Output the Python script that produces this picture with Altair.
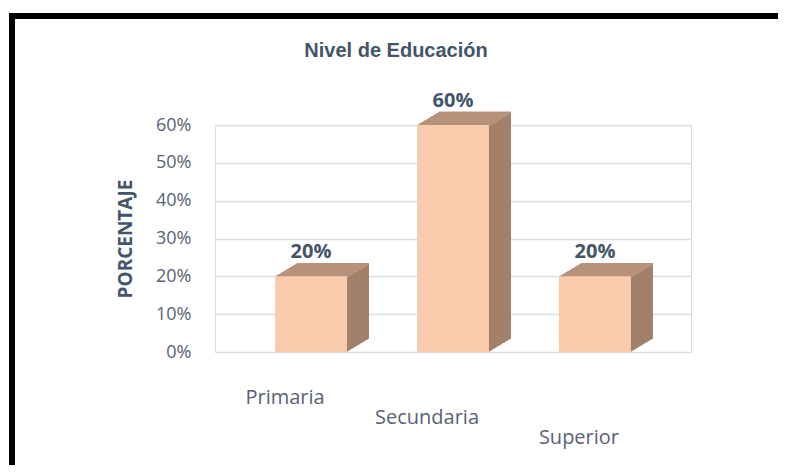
import altair as alt
import pandas as pd

# ---- data ----
categories = ["Primaria", "Secundaria", "Superior"]
values = [0.20, 0.60, 0.20]
value_labels = ["20%", "60%", "20%"]
y_ticks = [0.0, 0.1, 0.2, 0.3, 0.4, 0.5, 0.6]
chart_title = "Nivel de Educación"
y_title = "PORCENTAJE"

# ---- style ----
FRONT = "#F8CBAD"
TOP = "#BE9880"
SIDE = "#A2806A"
TEXT_DARK = "#44546A"
TEXT_AXIS = "#596275"
GRID = "#D9DFE7"

W, H = 476, 227
PL, PT = 207, 117
PR = 770 - PL - W
PB = 457 - PT - H
DEPTH = 22
SLOPE = 0.6

df = pd.DataFrame({"cat": categories, "v": values, "lab": value_labels})

x_enc = alt.X(
    "cat:N",
    sort=categories,
    title=None,
    scale=alt.Scale(paddingInner=0.493, paddingOuter=0.423),
    axis=alt.Axis(
        labelAngle=0,
        ticks=False,
        domain=False,
        grid=False,
        labelFont="Open Sans",
        labelFontSize=20,
        labelColor=TEXT_AXIS,
        labelBaseline="top",
        labelPadding={
            "condition": [
                {"test": "datum.value === 'Secundaria'", "value": 55},
                {"test": "datum.value === 'Superior'", "value": 75},
            ],
            "value": 35,
        },
        labelOffset={
            "condition": {"test": "datum.value === 'Superior'", "value": -16},
            "value": -26,
        },
    ),
)
y_enc = alt.Y(
    "v:Q",
    title=y_title,
    scale=alt.Scale(domain=[0, 0.6]),
    axis=alt.Axis(
        values=y_ticks,
        format=".0%",
        ticks=False,
        domain=False,
        grid=True,
        gridColor=GRID,
        gridWidth=1.3,
        labelFont="Open Sans",
        labelFontSize=18,
        labelColor=TEXT_AXIS,
        labelPadding=24,
        titleFont="Open Sans",
        titleFontSize=19,
        titleFontWeight="bold",
        titleColor=TEXT_DARK,
        titlePadding=20,
    ),
)

base = alt.Chart(df).encode(x=x_enc)

layers = []
for k in range(DEPTH, 0, -1):
    oy = -k * SLOPE
    layers.append(
        base.mark_bar(color=SIDE, xOffset=k, yOffset=oy, y2Offset=oy).encode(
            y=y_enc, y2=alt.datum(0)
        )
    )
    layers.append(
        base.mark_bar(color=TOP, xOffset=k, yOffset=oy, y2Offset=oy + 1.6).encode(
            y=y_enc, y2=alt.Y2("v")
        )
    )

front = base.mark_bar(color=FRONT).encode(y=y_enc, y2=alt.datum(0))
labels = base.mark_text(
    dy=-18,
    baseline="alphabetic",
    font="Open Sans",
    fontSize=20,
    fontWeight="bold",
    color=TEXT_DARK,
).encode(y=y_enc, text="lab:N")

frame = (
    alt.Chart(pd.DataFrame({"d": [0]}))
    .mark_rect(fillOpacity=0, stroke="black", strokeWidth=6)
    .encode(
        x=alt.value(-203),
        x2=alt.value(PR + W + 10),
        y=alt.value(-109),
        y2=alt.value(H + PB + 10),
    )
)

chart = (
    alt.layer(*layers, front, labels, frame)
    .properties(
        width=W,
        height=H,
        title=alt.TitleParams(
            chart_title,
            font="Liberation Sans",
            fontSize=20,
            fontWeight="bold",
            color=TEXT_DARK,
            anchor="middle",
            dx=-57,
            offset=-48,
        ),
        autosize=alt.AutoSizeParams(type="none"),
        padding={"left": PL, "top": PT, "right": PR, "bottom": PB},
    )
    .configure_view(stroke=None)
    .configure(background="white")
)

chart.save("out.html", embed_options={"renderer": "svg", "actions": False})
